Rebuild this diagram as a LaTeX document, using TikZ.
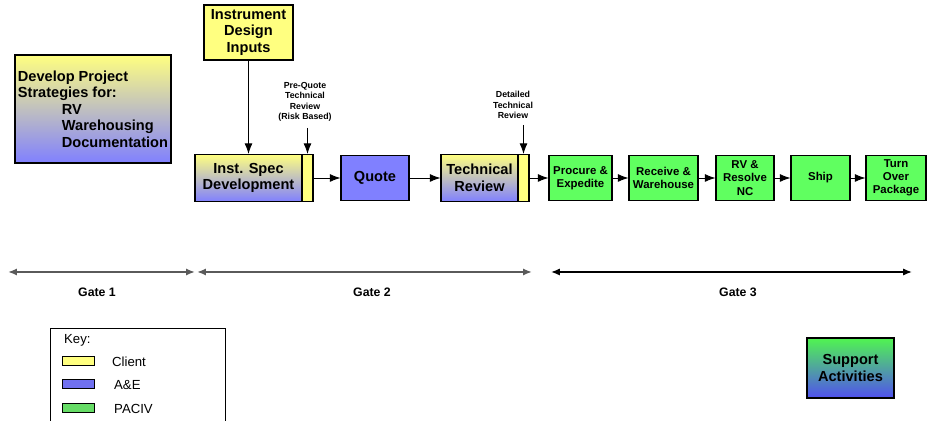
\documentclass[tikz,border=0pt]{standalone}
\usepackage{fontspec}
\setmainfont{Liberation Sans}
\usetikzlibrary{arrows.meta,positioning}

\definecolor{clientyellow}{RGB}{255,255,128}
\definecolor{aeblue}{RGB}{128,128,255}
\definecolor{pacgreen}{RGB}{96,255,96}
\definecolor{keygreen}{RGB}{102,220,102}
\definecolor{keyblue}{RGB}{112,112,240}
\definecolor{gategray}{RGB}{90,90,90}
\definecolor{supgreen}{RGB}{80,245,80}
\definecolor{supblue}{RGB}{80,80,240}

\tikzset{
  box/.style={draw=black, line width=0.6pt, inner sep=1pt, align=center,
    font=\bfseries\fontsize{8.3}{9.4}\selectfont},
  clientbox/.style={box, fill=clientyellow},
  aebox/.style={box, fill=aeblue},
  mixbox/.style={box, top color=clientyellow, bottom color=aeblue},
  tabbox/.style={draw=black, line width=0.6pt, fill=clientyellow,
    minimum width=0.22cm, minimum height=0.94cm, inner sep=0pt},
  pacbox/.style={box, fill=pacgreen, minimum width=1.2cm, minimum height=0.9cm,
    font=\bfseries\fontsize{6.5}{7.5}\selectfont},
  note/.style={align=center, font=\bfseries\fontsize{5}{6}\selectfont},
  flow/.style={-{Latex[length=6pt,width=4.5pt]}, line width=0.5pt},
  gate/.style={{Latex[length=5pt,width=4pt]}-{Latex[length=5pt,width=4pt]},
    line width=1.1pt, gategray},
  gatelabel/.style={font=\bfseries\fontsize{7}{8}\selectfont},
  swatch/.style={draw=black, line width=0.5pt, minimum width=0.64cm,
    minimum height=0.18cm, inner sep=0pt},
  keytext/.style={anchor=west, font=\fontsize{7.5}{9}\selectfont}
}

\begin{document}
\begin{tikzpicture}[x=0.02cm, y=-0.02cm]
  \useasboundingbox (0,0) rectangle (929,421);

  % strategy and inputs
  \node[mixbox, align=left, minimum width=3.12cm, minimum height=2.16cm] (strat) at (93,109)
    {Develop Project\\Strategies for:\\\hspace*{0.88cm}RV\\\hspace*{0.88cm}Warehousing\\\hspace*{0.88cm}Documentation};
  \node[clientbox, minimum width=1.78cm, minimum height=1.1cm] (inputs) at (248.5,32.5)
    {Instrument\\Design\\Inputs};

  % main chain
  \node[mixbox, minimum width=2.14cm, minimum height=0.94cm] (spec) at (248.5,178)
    {Inst. Spec\\Development};
  \node[tabbox] (specC) at (307.5,178) {};
  \node[aebox, minimum width=1.36cm, minimum height=0.9cm] (quote) at (375,178) {Quote};
  \node[mixbox, minimum width=1.54cm, minimum height=0.94cm] (techrev) at (479.5,178)
    {Technical\\Review};
  \node[tabbox] (techC) at (523.5,178) {};
  \node[pacbox, minimum width=1.26cm] (procure) at (580.5,178) {Procure \&\\Expedite};
  \node[pacbox, minimum width=1.38cm] (receive) at (663.5,178) {Receive \&\\Warehouse};
  \node[pacbox, minimum width=1.16cm] (rvnc) at (745,178) {RV \&\\Resolve\\NC};
  \node[pacbox, minimum width=1.18cm] (ship) at (820.5,178) {Ship};
  \node[pacbox, minimum width=1.2cm] (turnover) at (896,178) {Turn\\Over\\Package};

  % review notes
  \node[note] (prequote) at (305,102) {Pre-Quote\\Technical\\Review\\(Risk Based)};
  \node[note] (detailed) at (513,105) {Detailed\\Technical\\Review};

  \draw[flow] (inputs) -- (spec);
  \draw[flow] (specC.north |- prequote.south) -- (specC.north);
  \draw[flow] (techC.north |- detailed.south) -- (techC.north);
  \draw[flow] (specC) -- (quote);
  \draw[flow] (quote) -- (techrev);
  \draw[flow] (techC) -- (procure);
  \draw[flow] (procure) -- (receive);
  \draw[flow] (receive) -- (rvnc);
  \draw[flow] (rvnc) -- (ship);
  \draw[flow] (ship) -- (turnover);

  % gates
  \coordinate (g1a) at (8,272);
  \coordinate (g1b) at (195,272);
  \coordinate (g2a) at (197,272);
  \coordinate (g2b) at (532,272);
  \coordinate (g3a) at (551,272);
  \coordinate (g3b) at (912,272);
  \draw[gate] (g1a) -- (g1b);
  \draw[gate] (g2a) -- (g2b);
  \draw[gate, black, line width=0.8pt] (g3a) -- (g3b);
  \node[gatelabel] (gate1) at (97,292) {Gate 1};
  \node[gatelabel] (gate2) at (372,292) {Gate 2};
  \node[gatelabel] (gate3) at (738,292) {Gate 3};

  % key
  \draw[line width=0.5pt] (50,421) -- (50,328) -- (225,328) -- (225,421);
  \node[keytext] (keyhead) at (58,340) {Key:};
  \node[swatch, fill=clientyellow] (kclient) at (78,360.5) {};
  \node[swatch, fill=keyblue] (kae) at (78,384) {};
  \node[swatch, fill=keygreen] (kpac) at (78,408) {};
  \node[keytext] at (106,362) {Client};
  \node[keytext] at (108,385) {A\&E};
  \node[keytext] at (108,409) {PACIV};

  % support
  \node[box, top color=supgreen, bottom color=supblue,
    minimum width=1.74cm, minimum height=1.2cm] (support) at (850.5,368)
    {Support\\Activities};
\end{tikzpicture}
\end{document}
